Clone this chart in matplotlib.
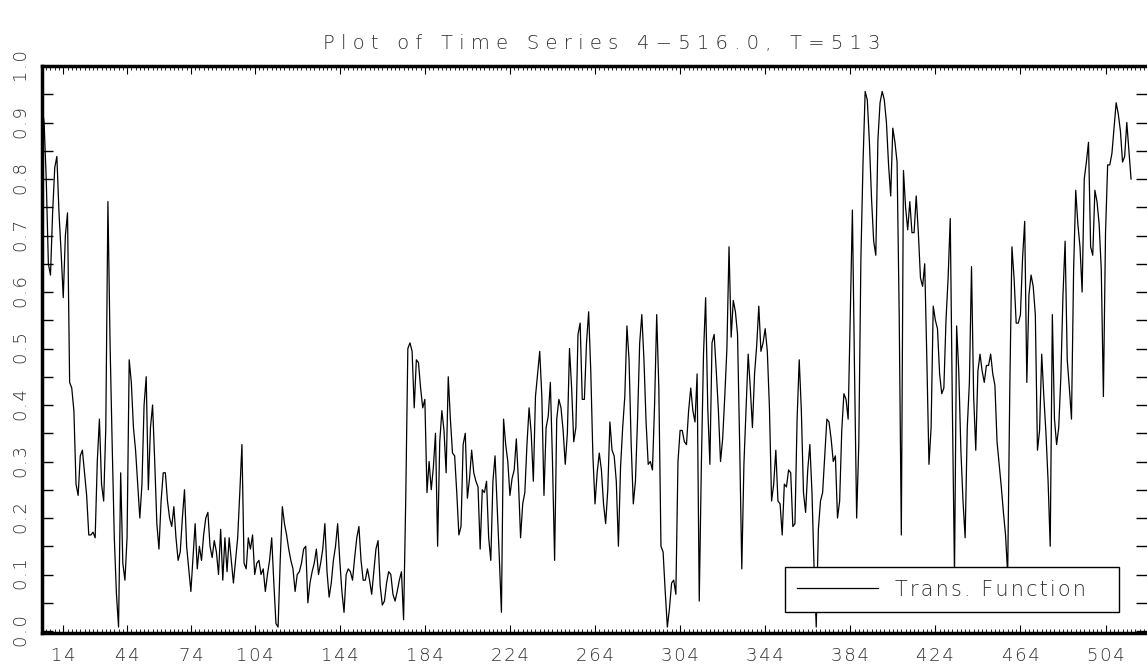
import numpy as np
import matplotlib.pyplot as plt

# time index of the series
t_start, t_end = 4, 516

# transfer function values, one list per stretch of the series
seg_a = [0.93, 0.90, 0.80, 0.65, 0.63, 0.74, 0.82, 0.84, 0.74, 0.67,
         0.59, 0.70, 0.74, 0.44, 0.43, 0.39, 0.26, 0.24, 0.31, 0.32,
         0.28, 0.24, 0.17, 0.17, 0.175, 0.165, 0.30, 0.375, 0.26, 0.23,
         0.36, 0.76, 0.51, 0.33, 0.165, 0.066, 0.007, 0.28, 0.12, 0.09,
         0.165, 0.48, 0.44, 0.36, 0.32, 0.26, 0.20]
seg_b = [0.26, 0.40, 0.45, 0.25, 0.36, 0.40, 0.30, 0.19, 0.145, 0.23,
         0.28, 0.28, 0.23, 0.20, 0.185, 0.22, 0.165, 0.125, 0.14, 0.20,
         0.25, 0.15, 0.11, 0.07, 0.13, 0.19, 0.11, 0.15, 0.125, 0.17,
         0.20, 0.21, 0.15, 0.13, 0.16, 0.14, 0.10, 0.18, 0.09, 0.165,
         0.105, 0.165, 0.125, 0.085, 0.125, 0.165, 0.245, 0.33, 0.12, 0.11,
         0.165, 0.145]
seg_c = [0.17, 0.10, 0.12, 0.125, 0.10, 0.11, 0.07, 0.10, 0.125, 0.165,
         0.085, 0.013, 0.007, 0.125, 0.22, 0.19, 0.17, 0.145, 0.125, 0.11,
         0.07, 0.10, 0.105, 0.12, 0.145, 0.15, 0.05, 0.085, 0.105, 0.12,
         0.145, 0.10, 0.12, 0.145, 0.19, 0.105, 0.06, 0.085, 0.125, 0.15,
         0.19, 0.125, 0.07, 0.033, 0.10, 0.11, 0.105, 0.09, 0.13, 0.165,
         0.185, 0.125, 0.09]
seg_d = [0.09, 0.11, 0.09, 0.065, 0.105, 0.145, 0.16, 0.08, 0.046, 0.053,
         0.085, 0.105, 0.10, 0.065, 0.053, 0.07, 0.09, 0.105, 0.02, 0.23,
         0.50, 0.51, 0.495, 0.395, 0.48, 0.475, 0.43, 0.395, 0.41, 0.245,
         0.30, 0.25, 0.29, 0.35, 0.15, 0.335, 0.39, 0.355, 0.28, 0.45,
         0.375, 0.315, 0.31, 0.245, 0.17, 0.185, 0.33, 0.35, 0.235, 0.27,
         0.32, 0.28, 0.265]
seg_e = [0.255, 0.145, 0.25, 0.245, 0.265, 0.165, 0.125, 0.265, 0.31, 0.22,
         0.13, 0.033, 0.375, 0.33, 0.30, 0.24, 0.27, 0.285, 0.34, 0.265,
         0.165, 0.225, 0.245, 0.33, 0.395, 0.35, 0.265, 0.415, 0.455, 0.495,
         0.415, 0.24, 0.36, 0.38, 0.44, 0.30, 0.125, 0.375, 0.41, 0.395,
         0.355, 0.295, 0.35, 0.50, 0.43, 0.335, 0.36, 0.525, 0.545, 0.41,
         0.41, 0.51]
seg_f = [0.565, 0.46, 0.31, 0.225, 0.28, 0.315, 0.285, 0.225, 0.19, 0.25,
         0.37, 0.32, 0.31, 0.265, 0.15, 0.29, 0.36, 0.415, 0.54, 0.48,
         0.33, 0.225, 0.265, 0.375, 0.51, 0.56, 0.48, 0.37, 0.295, 0.30,
         0.285, 0.40, 0.56, 0.43, 0.15, 0.14, 0.07, 0.007, 0.04, 0.085,
         0.09, 0.065, 0.30, 0.355, 0.355, 0.335, 0.33, 0.39, 0.43, 0.39,
         0.37, 0.455, 0.053]
seg_g = [0.295, 0.49, 0.59, 0.395, 0.295, 0.51, 0.525, 0.46, 0.39, 0.30,
         0.34, 0.415, 0.50, 0.68, 0.52, 0.585, 0.565, 0.525, 0.33, 0.11,
         0.295, 0.395, 0.49, 0.43, 0.36, 0.455, 0.505, 0.575, 0.495, 0.51,
         0.535, 0.495, 0.395, 0.23, 0.26, 0.32, 0.23, 0.225, 0.17, 0.26,
         0.255, 0.285, 0.28, 0.185, 0.19, 0.375, 0.48, 0.39, 0.245, 0.21,
         0.285, 0.33]
seg_h = [0.245, 0.11, 0.007, 0.18, 0.23, 0.245, 0.31, 0.375, 0.37, 0.34,
         0.30, 0.31, 0.20, 0.23, 0.355, 0.42, 0.41, 0.375, 0.56, 0.745,
         0.46, 0.20, 0.33, 0.66, 0.83, 0.955, 0.94, 0.865, 0.765, 0.69,
         0.665, 0.87, 0.935, 0.955, 0.94, 0.90, 0.825, 0.77, 0.89, 0.865,
         0.83, 0.56, 0.17, 0.815, 0.75, 0.71, 0.76, 0.705, 0.705, 0.77,
         0.705, 0.625, 0.61]
seg_i = [0.65, 0.48, 0.295, 0.36, 0.575, 0.55, 0.535, 0.455, 0.42, 0.43,
         0.55, 0.625, 0.73, 0.395, 0.10, 0.54, 0.46, 0.32, 0.23, 0.165,
         0.36, 0.44, 0.645, 0.415, 0.32, 0.46, 0.49, 0.46, 0.44, 0.47,
         0.47, 0.49, 0.455, 0.435, 0.335, 0.295, 0.255, 0.21, 0.17, 0.10,
         0.43, 0.68, 0.625, 0.545, 0.545, 0.56, 0.66, 0.725, 0.44, 0.595,
         0.63, 0.61, 0.56]
seg_j = [0.32, 0.355, 0.49, 0.415, 0.35, 0.265, 0.15, 0.56, 0.375, 0.33,
         0.36, 0.45, 0.595, 0.69, 0.48, 0.43, 0.375, 0.64, 0.78, 0.72,
         0.68, 0.60, 0.80, 0.83, 0.865, 0.68, 0.665, 0.78, 0.76, 0.72,
         0.64, 0.415, 0.705, 0.825, 0.825, 0.845, 0.89, 0.935, 0.915, 0.885,
         0.83, 0.84, 0.90, 0.85, 0.80]

x_ticks = [14, 44, 74, 104, 144, 184, 224, 264, 304, 344, 384, 424, 464, 504]
y_ticks = np.round(np.arange(0, 1.0001, 0.05), 2)

values = np.concatenate([seg_a, seg_b, seg_c, seg_d, seg_e,
                         seg_f, seg_g, seg_h, seg_i, seg_j])
t = np.arange(t_start, t_end + 1)


def spaced(s, gap='\u200a'):
    """Open up the letters a little, like the old plotter font."""
    return gap.join(s)


plt.rcParams['font.family'] = ['DejaVu Sans']
ink = '#303030'

fig = plt.figure(figsize=(11.47, 6.64), dpi=100)
ax = fig.add_axes([0.0366, 0.0467, 0.9634, 0.8539])

ax.plot(t, values, color='black', linewidth=0.9,
        label=spaced('Trans. Function'))

ax.set_xlim(t_start, 523.5)
ax.set_ylim(-0.0035, 1.0)

# heavy frame on the left, top and bottom
for side in ['left', 'top', 'bottom']:
    ax.spines[side].set_linewidth(2.5)
ax.spines['right'].set_visible(False)

ax.set_xticks(x_ticks)
ax.set_xticklabels([spaced(str(v)) for v in x_ticks], fontsize=13,
                   color=ink, fontweight='light')
ax.set_xticks(np.arange(t_start, 524, 2), minor=True)
ax.tick_params(axis='x', which='major', direction='in', length=6,
               top=True, bottom=True, pad=10)
ax.tick_params(axis='x', which='minor', direction='in', length=3,
               top=True, bottom=True)

ax.set_yticks(y_ticks)
ax.set_yticklabels([spaced('%.1f' % v) if round(v * 10) == v * 10 else ''
                    for v in y_ticks], fontsize=13, color=ink,
                   fontweight='light', rotation=90)
for lab in ax.get_yticklabels():
    lab.set_va('center')
ax.tick_params(axis='y', direction='in', length=8, width=1,
               left=True, right=True, pad=8)

leg = ax.legend(loc='lower left', bbox_to_anchor=(0.672, 0.037, 0.303, 0.095),
                mode='expand', borderaxespad=0, fontsize=15, handlelength=3.9,
                fancybox=False, framealpha=1, edgecolor='black',
                borderpad=0.6)
leg.get_frame().set_linewidth(1.0)
for txt in leg.get_texts():
    txt.set_color(ink)
    txt.set_fontweight('light')

fig.text(0.525, 0.935, spaced('Plot of Time Series 4\u2212516.0, T=513', ' '),
         ha='center', va='center', fontsize=14, color=ink, fontweight='light')

plt.savefig('out.png', dpi=100)
